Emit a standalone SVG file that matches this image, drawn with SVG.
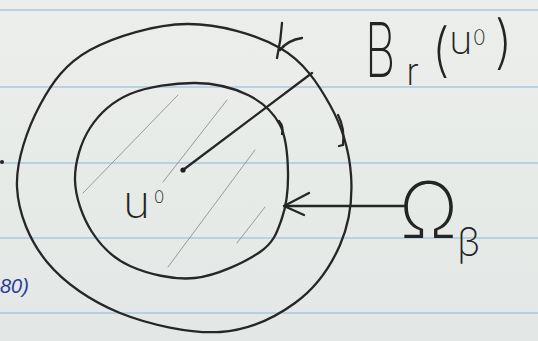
<svg xmlns="http://www.w3.org/2000/svg" width="538" height="341" viewBox="0 0 538 341">
  <defs>
    <linearGradient id="paper" x1="0" y1="0" x2="0" y2="1">
      <stop offset="0" stop-color="#eceeec"/>
      <stop offset="0.5" stop-color="#e7ebe8"/>
      <stop offset="1" stop-color="#e3e8e6"/>
    </linearGradient>
  </defs>
  <style>
    .rule { stroke: #a9c9de; stroke-width: 1.6; }
    .pen { fill: none; stroke: #262626; stroke-width: 2.3; stroke-linecap: round; stroke-linejoin: round; }
    .hatch { fill: none; stroke: #8e928f; stroke-width: 0.9; stroke-linecap: round; }
    .hand { font-family: "Inter", "Liberation Sans", sans-serif; font-weight: 250; fill: #242424; }
  </style>
  <rect width="538" height="341" fill="url(#paper)"/>
  <g id="ruling">
    <line class="rule" x1="0" y1="10" x2="538" y2="10"/>
    <line class="rule" x1="0" y1="87" x2="538" y2="87"/>
    <line class="rule" x1="0" y1="163" x2="538" y2="163"/>
    <line class="rule" x1="0" y1="238" x2="538" y2="238"/>
    <line class="rule" x1="0" y1="313" x2="538" y2="313"/>
  </g>
  <g id="outer-ball">
    <path class="pen" d="M187,24 C218.7,23.7 256.2,34.5 280,48 C303.8,61.5 318.2,83.8 330,105 C341.8,126.2 349.3,151.7 351,175 C352.7,198.3 349.3,223.7 340,245 C330.7,266.3 315,288.5 295,303 C275,317.5 249.2,330.3 220,332 C190.8,333.7 148.8,324.7 120,313 C91.2,301.3 64.2,283 47,262 C29.8,241 18.2,213.2 17,187 C15.8,160.8 27.8,127.8 40,105 C52.2,82.2 65.5,63.5 90,50 C114.5,36.5 155.3,24.3 187,24"/>
    <path class="pen" d="M282,23 Q281,40 277,58 M280,50 Q288,40 302,38"/>
    <path class="pen" d="M338,115 Q345,128 343,145 L339,146"/>
  </g>
  <g id="inner-domain">
    <path class="pen" d="M195,83 C214.7,83.2 233.8,88 248,95 C262.2,102 273.3,112.2 280,125 C286.7,137.8 287.7,156.5 288,172 C288.3,187.5 286.7,204.7 282,218 C277.3,231.3 274.5,242 260,252 C245.5,262 216.7,275.7 195,278 C173.3,280.3 147.2,273.7 130,266 C112.8,258.3 101.2,246.3 92,232 C82.8,217.7 75.3,197.3 75,180 C74.7,162.7 80.8,142.3 90,128 C99.2,113.7 112.5,101.5 130,94 C147.5,86.5 175.3,82.8 195,83"/>
    <path class="pen" d="M279,121 Q284,127 282,134"/>
    <line class="hatch" x1="178" y1="95" x2="83" y2="193"/>
    <line class="hatch" x1="227" y1="100" x2="163" y2="182"/>
    <line class="hatch" x1="255" y1="150" x2="168" y2="267"/>
    <line class="hatch" x1="265" y1="207" x2="237" y2="243"/>
    <text class="hand" font-size="46" x="123" y="218">u</text>
    <text class="hand" font-size="17" x="154" y="203">0</text>
  </g>
  <g id="connectors">
    <line class="pen" x1="183" y1="170" x2="312" y2="73"/>
    <circle cx="183" cy="170" r="2.6" fill="#1e1e1e"/>
    <line class="pen" x1="406" y1="206" x2="284" y2="206"/>
    <path class="pen" d="M309,193 L284,206 L304,215"/>
  </g>
  <g id="label-ball">
    <text class="hand" font-size="76" x="0" y="0" transform="translate(365,77) scale(0.62,1)">B</text>
    <text class="hand" font-size="38" x="406" y="85">r</text>
    <text class="hand" font-size="58" x="431" y="70">(</text>
    <text class="hand" font-size="40" x="449" y="54">u</text>
    <text class="hand" font-size="21" x="473" y="45">0</text>
    <text class="hand" font-size="58" x="494" y="62">)</text>
  </g>
  <g id="label-omega">
    <text class="hand" font-size="78" x="399" y="238">Ω</text>
    <text class="hand" font-size="40" x="457" y="256">β</text>
  </g>
  <g id="margin-marks">
    <circle cx="2" cy="162" r="2" fill="#222"/>
    <text font-family="Liberation Sans, sans-serif" font-style="italic" font-size="20" fill="#2b3c9c" x="0" y="293">80)</text>
  </g>
</svg>
